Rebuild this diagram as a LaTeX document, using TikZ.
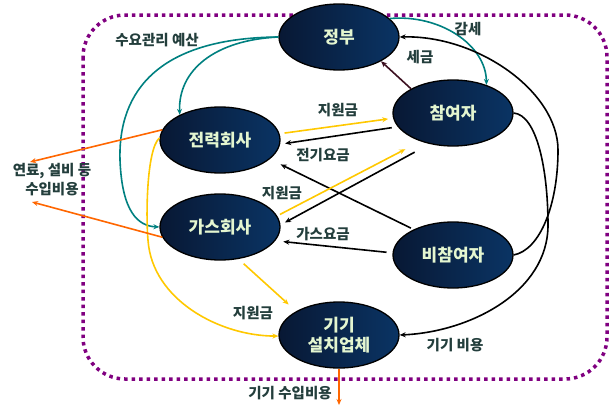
\documentclass[tikz,border=0pt]{standalone}
\usepackage{fontspec}
\setmainfont{Noto Sans CJK KR}
\usetikzlibrary{shapes.geometric,arrows.meta}
\definecolor{nvA}{RGB}{8,24,52}
\definecolor{nvB}{RGB}{10,52,100}
\definecolor{ntext}{RGB}{228,246,208}
\definecolor{ltext}{RGB}{35,62,60}
\definecolor{tealc}{RGB}{0,128,128}
\definecolor{yelc}{RGB}{255,200,0}
\definecolor{orac}{RGB}{255,102,0}
\definecolor{purc}{RGB}{128,0,128}
\definecolor{marc}{RGB}{60,16,32}
\begin{document}
\begin{tikzpicture}[x=1pt,y=-1pt,
  ent/.style={ellipse, draw=black, line width=1.3pt, minimum width=120pt, minimum height=66pt,
    left color=nvA, right color=nvB, text=ntext, align=center, inner sep=0pt,
    font=\bfseries\fontsize{17}{20}\selectfont},
  lab/.style={text=ltext, align=center, inner sep=0pt, font=\bfseries\fontsize{14.5}{19}\selectfont},
  arr/.style={line width=1.6pt, -{Stealth[length=6pt,width=5pt]}},
  tealarr/.style={arr, draw=tealc},
  yelarr/.style={arr, draw=yelc},
  orarr/.style={arr, draw=orac},
  blkarr/.style={arr, draw=black},
  mararr/.style={arr, draw=marc}]
\useasboundingbox (0,0) rectangle (611,407);
\draw[purc, line width=3.5pt, dash pattern=on 3.5pt off 4pt, rounded corners=42pt] (83,15) rectangle (607,379);

\node[ent] (gov) at (339,37) {정부};
\node[ent] (par) at (453,113) {참여자};
\node[ent] (elec) at (220,140) {전력회사};
\node[ent] (gas) at (220,227) {가스회사};
\node[ent] (nonpar) at (453,255) {비참여자};
\node[ent] (inst) at (339,335) {기기\\설치업체};

\coordinate (fuel1) at (30,162);
\coordinate (fuel2) at (32,202);
\coordinate (imp) at (339,405);

% teal
\draw[tealarr] (gov.180) .. controls (215,40) and (178,70) .. (elec.148);
\draw[tealarr] (gov.180) .. controls (160,38) and (118,90) .. (120,160) .. controls (122,212) and (138,226) .. (gas.180);
\draw[tealarr] (gov.20) .. controls (440,14) and (486,45) .. (par.40);
% maroon
\draw[mararr] (par.150) -- (gov.-30);
% black long curves
\draw[blkarr] (par.0) .. controls (537,115) and (548,170) .. (548,225) .. controls (548,292) and (470,332) .. (inst.0);
\draw[blkarr] (nonpar.0) .. controls (540,250) and (558,205) .. (558,150) .. controls (558,92) and (478,35) .. (gov.0);
% middle
\draw[yelarr, shorten <=5pt, shorten >=5pt] (elec.6) -- (par.185);
\draw[blkarr, shorten <=6pt, shorten >=5pt] (par.194) -- (elec.-4);
\draw[blkarr, shorten <=3pt, shorten >=12pt] (nonpar.147) -- (elec.-21);
\draw[yelarr, shorten <=3pt, shorten >=17pt] (gas.11) -- (par.221);
\draw[blkarr, shorten <=17pt, shorten >=5pt] (par.233) -- (gas.2);
\draw[blkarr, shorten <=6pt, shorten >=8pt] (nonpar.178) -- (gas.-14);
\draw[yelarr, shorten <=7pt, shorten >=10pt] (gas.-60) -- (inst.151);
\draw[yelarr] (elec.178) .. controls (146,150) and (146,220) .. (148,240) .. controls (152,300) and (220,336) .. (inst.181);
% orange
\draw[orarr] (elec.170) -- (fuel1);
\draw[orarr] (gas.190) -- (fuel2);
\draw[orarr] (inst.270) -- (imp);

% labels
\node[lab] (l1) at (157,40) {수요관리 예산};
\node[lab] (l2) at (468,29) {감세};
\node[lab] (l3) at (420,57) {세금};
\node[lab] (l4) at (338,110) {지원금};
\node[lab] (l5) at (323,155) {전기요금};
\node[lab] (l6) at (282,193) {지원금};
\node[lab] (l7) at (323,234) {가스요금};
\node[lab] (l8) at (253,313) {지원금};
\node[lab] (l9) at (455,345) {기기 비용};
\node[lab] (l10) at (290,393) {기기 수입비용};
\node[lab] (l11) at (52,180) {연료, 설비 등\\수입비용};
\end{tikzpicture}
\end{document}
